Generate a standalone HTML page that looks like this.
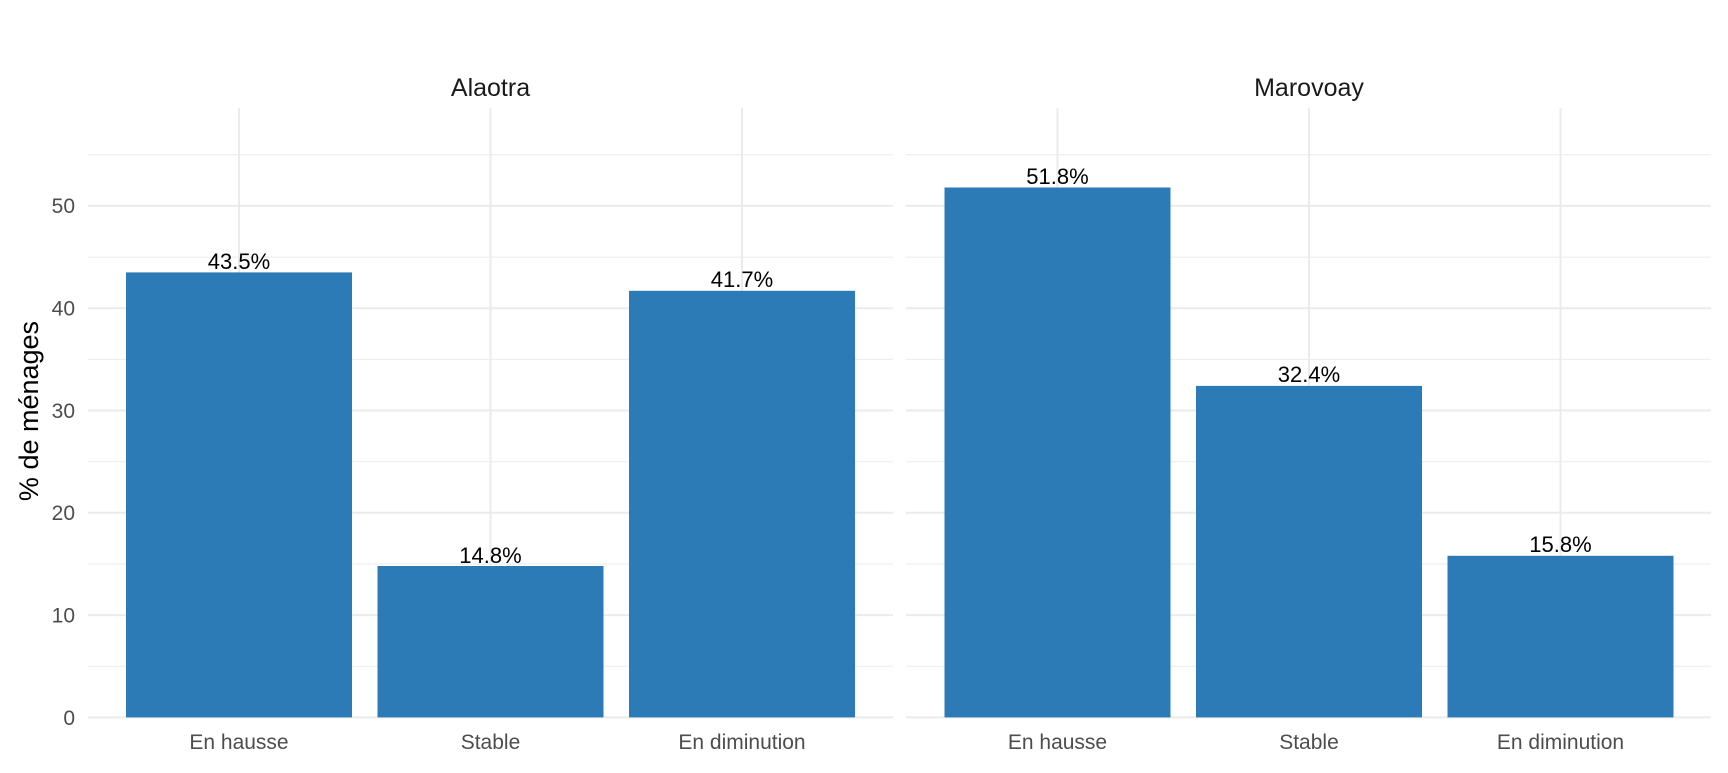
<!DOCTYPE html>
<html><head><meta charset="utf-8"><style>body{margin:0;background:#fff}</style></head><body>
<svg width="1728" height="768" xmlns="http://www.w3.org/2000/svg" font-family="Liberation Sans, sans-serif">
<g id="p1">
<g stroke="#ebebeb" stroke-width="1">
<line x1="88" x2="893" y1="666.3" y2="666.3"/><line x1="88" x2="893" y1="564" y2="564"/><line x1="88" x2="893" y1="461.7" y2="461.7"/><line x1="88" x2="893" y1="359.4" y2="359.4"/><line x1="88" x2="893" y1="257.1" y2="257.1"/><line x1="88" x2="893" y1="154.8" y2="154.8"/>
<line x1="906" x2="1711" y1="666.3" y2="666.3"/><line x1="906" x2="1711" y1="564" y2="564"/><line x1="906" x2="1711" y1="461.7" y2="461.7"/><line x1="906" x2="1711" y1="359.4" y2="359.4"/><line x1="906" x2="1711" y1="257.1" y2="257.1"/><line x1="906" x2="1711" y1="154.8" y2="154.8"/>
</g>
<g stroke="#ebebeb" stroke-width="2">
<line x1="88" x2="893" y1="717.4" y2="717.4"/><line x1="88" x2="893" y1="615.1" y2="615.1"/><line x1="88" x2="893" y1="512.8" y2="512.8"/><line x1="88" x2="893" y1="410.5" y2="410.5"/><line x1="88" x2="893" y1="308.2" y2="308.2"/><line x1="88" x2="893" y1="205.9" y2="205.9"/>
<line x1="906" x2="1711" y1="717.4" y2="717.4"/><line x1="906" x2="1711" y1="615.1" y2="615.1"/><line x1="906" x2="1711" y1="512.8" y2="512.8"/><line x1="906" x2="1711" y1="410.5" y2="410.5"/><line x1="906" x2="1711" y1="308.2" y2="308.2"/><line x1="906" x2="1711" y1="205.9" y2="205.9"/>
<line x1="239" x2="239" y1="108" y2="717"/><line x1="490.5" x2="490.5" y1="108" y2="717"/><line x1="742" x2="742" y1="108" y2="717"/>
<line x1="1057.5" x2="1057.5" y1="108" y2="717"/><line x1="1309" x2="1309" y1="108" y2="717"/><line x1="1560.5" x2="1560.5" y1="108" y2="717"/>
</g>
</g>
<g fill="#2c7bb6">
<rect x="126" y="272.4" width="226" height="445"/>
<rect x="377.5" y="566" width="226" height="151.4"/>
<rect x="629" y="290.8" width="226" height="426.6"/>
<rect x="944.5" y="187.5" width="226" height="529.9"/>
<rect x="1196" y="385.9" width="226" height="331.5"/>
<rect x="1447.5" y="555.8" width="226" height="161.6"/>
</g>
<g font-size="22" text-anchor="middle" fill="#000">
<text x="239" y="269">43.5%</text><text x="490.5" y="563">14.8%</text><text x="742" y="287">41.7%</text>
<text x="1057.5" y="184">51.8%</text><text x="1309" y="382">32.4%</text><text x="1560.5" y="552">15.8%</text>
</g>
<g font-size="25" text-anchor="middle" fill="#1a1a1a">
<text x="490.5" y="96">Alaotra</text><text x="1309" y="96">Marovoay</text>
</g>
<g font-size="21" text-anchor="middle" fill="#4d4d4d">
<text x="239" y="749">En hausse</text><text x="490.5" y="749">Stable</text><text x="742" y="749">En diminution</text>
<text x="1057.5" y="749">En hausse</text><text x="1309" y="749">Stable</text><text x="1560.5" y="749">En diminution</text>
</g>
<g font-size="21" text-anchor="end" fill="#4d4d4d">
<text x="75" y="725">0</text><text x="75" y="622.5">10</text><text x="75" y="520">20</text><text x="75" y="418">30</text><text x="75" y="315.5">40</text><text x="75" y="213">50</text>
</g>
<text transform="translate(38,411) rotate(-90)" font-size="27" text-anchor="middle" fill="#000">% de ménages</text>
</svg>
</body></html>
